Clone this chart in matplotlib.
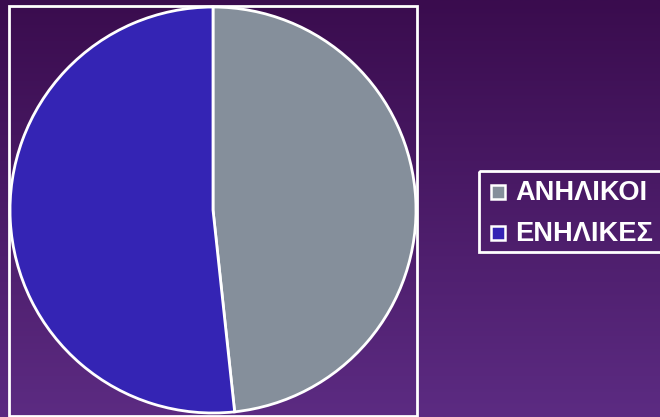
import numpy as np
import matplotlib
matplotlib.use('Agg')
import matplotlib.pyplot as plt
from matplotlib.colors import LinearSegmentedColormap
from matplotlib.patches import Rectangle
from matplotlib.transforms import Affine2D

labels = ["ΑΝΗΛΙΚΟΙ", "ΕΝΗΛΙΚΕΣ"]
shares = [48.3, 51.7]
colors = ["#858f9b", "#3424b4"]

W, H = 660, 417
fig = plt.figure(figsize=(W / 100, H / 100), dpi=100)
# pixel coordinates with the origin at the top-left corner
px = Affine2D().scale(1 / W, -1 / H).translate(0, 1) + fig.transFigure

# vertical purple gradient behind everything
bg = fig.add_axes([0, 0, 1, 1], zorder=0)
grad = LinearSegmentedColormap.from_list("bg", ["#3a0c4e", "#5c2b82"])
bg.imshow(np.linspace(0, 1, 256).reshape(-1, 1), aspect="auto", cmap=grad,
          extent=[0, 1, 0, 1], origin="upper")
bg.set_axis_off()

# white frame around the plot area
fig.patches.append(Rectangle((9, 6), 408, 410, transform=px, fill=False,
                             edgecolor="white", lw=2, zorder=1))

ax = fig.add_axes([9 / W, 1 - 414 / H, 408 / W, 408 / H], zorder=2)
ax.pie(shares, colors=colors, startangle=90, counterclock=False, radius=1.0,
       wedgeprops=dict(edgecolor="white", linewidth=2))
ax.set_xlim(-1.005, 1.005)
ax.set_ylim(-1.005, 1.005)
ax.set_aspect("equal")
ax.set_axis_off()

# legend box, running off the right edge
fig.patches.append(Rectangle((479, 171), 200, 81, transform=px, fill=False,
                             edgecolor="white", lw=2, zorder=3))
for i, (lab, c) in enumerate(zip(labels, colors)):
    yc = 192 + i * 41
    fig.patches.append(Rectangle((491, yc - 7), 14, 14, transform=px,
                                 facecolor=c, edgecolor="white", lw=1.8,
                                 zorder=3))
    fig.text(515, yc + 1, lab, transform=px, color="white", fontsize=19.6,
             fontweight="bold", family="Liberation Sans", va="center",
             ha="left", zorder=3)

fig.savefig("out.png", dpi=100)
